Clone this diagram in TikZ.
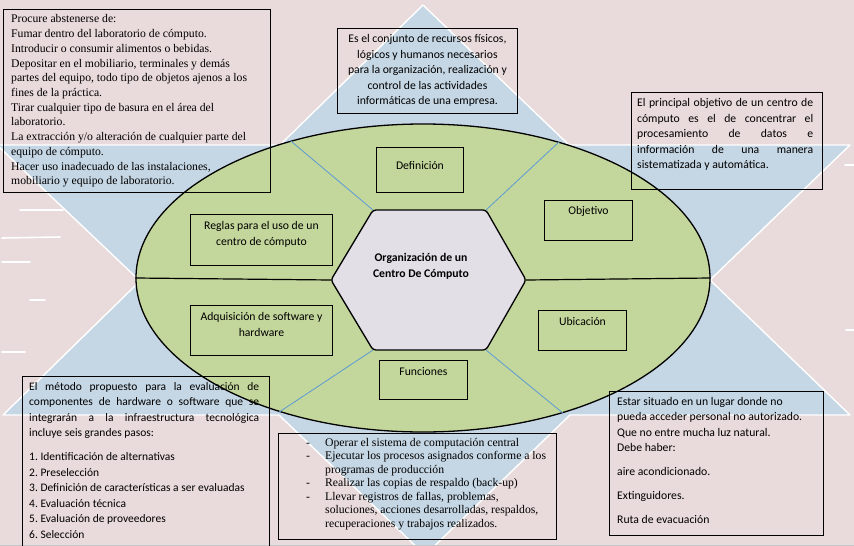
\documentclass[tikz,border=0pt]{standalone}
\usepackage{fontspec}
\setmainfont{Carlito}
\newfontfamily\tnr{Liberation Serif}
\usetikzlibrary{shapes.geometric,calc}
\definecolor{bgpink}{RGB}{233,218,219}
\definecolor{bgblue}{RGB}{197,214,228}
\definecolor{sgreen}{RGB}{195,214,155}
\definecolor{hexfill}{RGB}{226,223,231}
\definecolor{radial}{RGB}{91,155,213}
\newcommand\ns{\spaceskip=\fontdimen2\font\xspaceskip=\fontdimen2\font\relax}
\newcommand\jline[2]{\makebox[#1][s]{\spaceskip=0pt\xspaceskip=0pt\relax #2}}
\begin{document}
\frenchspacing
\begin{tikzpicture}[x=1pt,y=-1pt,
  bigbox/.style={draw=black, line width=0.9pt, inner sep=0pt, anchor=north west},
  inbox/.style={draw=black, line width=0.9pt, fill=sgreen, inner sep=0pt, anchor=north west, align=center, font=\fontsize{11.7}{16}\selectfont},
  txt/.style={inner sep=0pt, anchor=base west, align=left},
  cal/.style={font=\fontsize{11.7}{15.6}\selectfont},
  radline/.style={draw=radial, line width=0.8pt},
  streak/.style={draw=white, line width=1.6pt, line cap=round}]
\useasboundingbox (0,0) rectangle (854,546);
% background
\fill[bgpink] (0,0) rectangle (854,546);
\filldraw[fill=bgblue, draw=white, line width=1.4pt, line join=round]
  (423,5) -- (569,145) -- (850,145) -- (710,280) -- (850,415) -- (570,415)
  -- (425,555) -- (279,415) -- (3,415) -- (140,281) -- (-3,145) -- (280,145) -- cycle;
\draw[streak] (20,210) -- (63,210);
\draw[streak] (2,238) -- (60,237);
\draw[streak] (2,262) -- (30,262);
\draw[streak] (30,300) -- (45,300);
\draw[streak] (2,352) -- (25,352);
\draw[streak] (845,165) -- (854,165);
\draw[streak] (846,330) -- (854,330);
\draw[gray!45, line width=0.8pt] (0,545.5) -- (854,545.5);
% ring
\node[ellipse, draw=black, line width=1.3pt, fill=sgreen, minimum width=574, minimum height=308, inner sep=0pt] (ell) at (423,278) {};
\coordinate (h1) at (373,210);
\coordinate (h2) at (486,210);
\coordinate (h3) at (526,280);
\coordinate (h4) at (486,350);
\coordinate (h5) at (373,350);
\coordinate (h6) at (331,280);
\draw[line width=1.2pt] (ell.west) -- (h6);
\draw[line width=1.2pt] (h3) -- (ell.east);
\draw[radline] (h1) -- (ell.134.2);
\draw[radline] (h2) -- (ell.45.2);
\draw[radline] (h5) -- (ell.223.5);
\draw[radline] (h4) -- (ell.316.7);
\filldraw[fill=hexfill, draw=black, line width=1.3pt, rounded corners=3pt]
  (h1) -- (h2) -- (h3) -- (h4) -- (h5) -- (h6) -- cycle;
\node[align=center, inner sep=0pt, text width=150, font=\bfseries\fontsize{11.7}{16}\selectfont] (hub) at (421,266) {\ns Organización de un\\Centro De Cómputo};
% inner boxes
\node[inbox, text width=87, text height=22, text depth=23] (def) at (376,147) {Definición};
\node[inbox, text width=88, text height=14, text depth=26] (obj) at (544,200) {Objetivo};
\node[inbox, text width=142, text height=15, text depth=36] (reg) at (190,214) {\ns Reglas para el uso de un\\centro de cómputo};
\node[inbox, text width=142, text height=15, text depth=35] (adq) at (190,305) {\ns Adquisición de software y\\hardware};
\node[inbox, text width=88, text height=15, text depth=25] (ubi) at (538,310) {Ubicación};
\node[inbox, text width=88, text height=15, text depth=24] (fun) at (379,360) {Funciones};
% outer boxes
\node[bigbox, minimum width=267, minimum height=183] (tl) at (3,9) {};
\node[bigbox, minimum width=180, minimum height=85] (tm) at (337,28) {};
\node[bigbox, minimum width=191, minimum height=97] (rt) at (631,92) {};
\node[bigbox, minimum width=247, minimum height=180] (bl) at (22,376) {};
\node[bigbox, minimum width=278, minimum height=106] (bm) at (278,433) {};
\node[bigbox, minimum width=214, minimum height=144] (br) at (609,391) {};
% texts
\node[txt, text width=300, font=\tnr\fontsize{11.7}{14.7}\selectfont] (tlt) at ($(tl.north west)+(8,14)$) {\ns Procure abstenerse de:\\
Fumar dentro del laboratorio de cómputo.\\
Introducir o consumir alimentos o bebidas.\\
Depositar en el mobiliario, terminales y demás\\
partes del equipo, todo tipo de objetos ajenos a los\\
fines de la práctica.\\
Tirar cualquier tipo de basura en el área del\\
laboratorio.\\
La extracción y/o alteración de cualquier parte del\\
equipo de cómputo.\\
Hacer uso inadecuado de las instalaciones,\\
mobiliario y equipo de laboratorio.};
\node[txt, anchor=base, text width=178, align=center, font=\fontsize{11.7}{15.5}\selectfont] (tmt) at ($(tm.north)+(0,14.5)$) {\ns Es el conjunto de recursos físicos,\\
lógicos y humanos necesarios\\
para la organización, realización y\\
control de las actividades\\
informáticas de una empresa.};
\node[txt, cal, text width=250] (rtt) at ($(rt.north west)+(6,14.5)$) {\ns\jline{176pt}{El principal objetivo de un centro de}\\
\jline{176pt}{cómputo es el de concentrar el}\\
\jline{176pt}{procesamiento de datos e}\\
\jline{176pt}{información de una manera}\\
sistematizada y automática.};
\node[txt, text width=300, font=\fontsize{11.5}{15.5}\selectfont] (blt) at ($(bl.north west)+(7,14)$) {\ns\jline{230pt}{El método propuesto para la evaluación de}\\
\jline{230pt}{componentes de hardware o software que se}\\
\jline{230pt}{integrarán a la infraestructura tecnológica}\\
incluye seis grandes pasos:\\[8.5pt]
1. Identificación de alternativas\\
2. Preselección\\
3. Definición de características a ser evaluadas\\
4. Evaluación técnica\\
5. Evaluación de proveedores\\
6. Selección};
\node[txt, text width=320, font=\tnr\fontsize{11.7}{13.5}\selectfont] (bmt) at ($(bm.north west)+(28,13)$) {\ns\makebox[19pt][l]{-}Operar el sistema de computación central\\
\makebox[19pt][l]{-}Ejecutar los procesos asignados conforme a los\\
\hspace*{19pt}programas de producción\\
\makebox[19pt][l]{-}Realizar las copias de respaldo (back-up)\\
\makebox[19pt][l]{-}Llevar registros de fallas, problemas,\\
\hspace*{19pt}soluciones, acciones desarrolladas, respaldos,\\
\hspace*{19pt}recuperaciones y trabajos realizados.};
\node[txt, cal, text width=250] (brt) at ($(br.north west)+(8,14)$) {\ns Estar situado en un lugar donde no\\
pueda acceder personal no autorizado.\\
Que no entre mucha luz natural.\\
Debe haber:\\[8.3pt]
aire acondicionado.\\[8.3pt]
Extinguidores.\\[8.3pt]
Ruta de evacuación};
\end{tikzpicture}
\end{document}
